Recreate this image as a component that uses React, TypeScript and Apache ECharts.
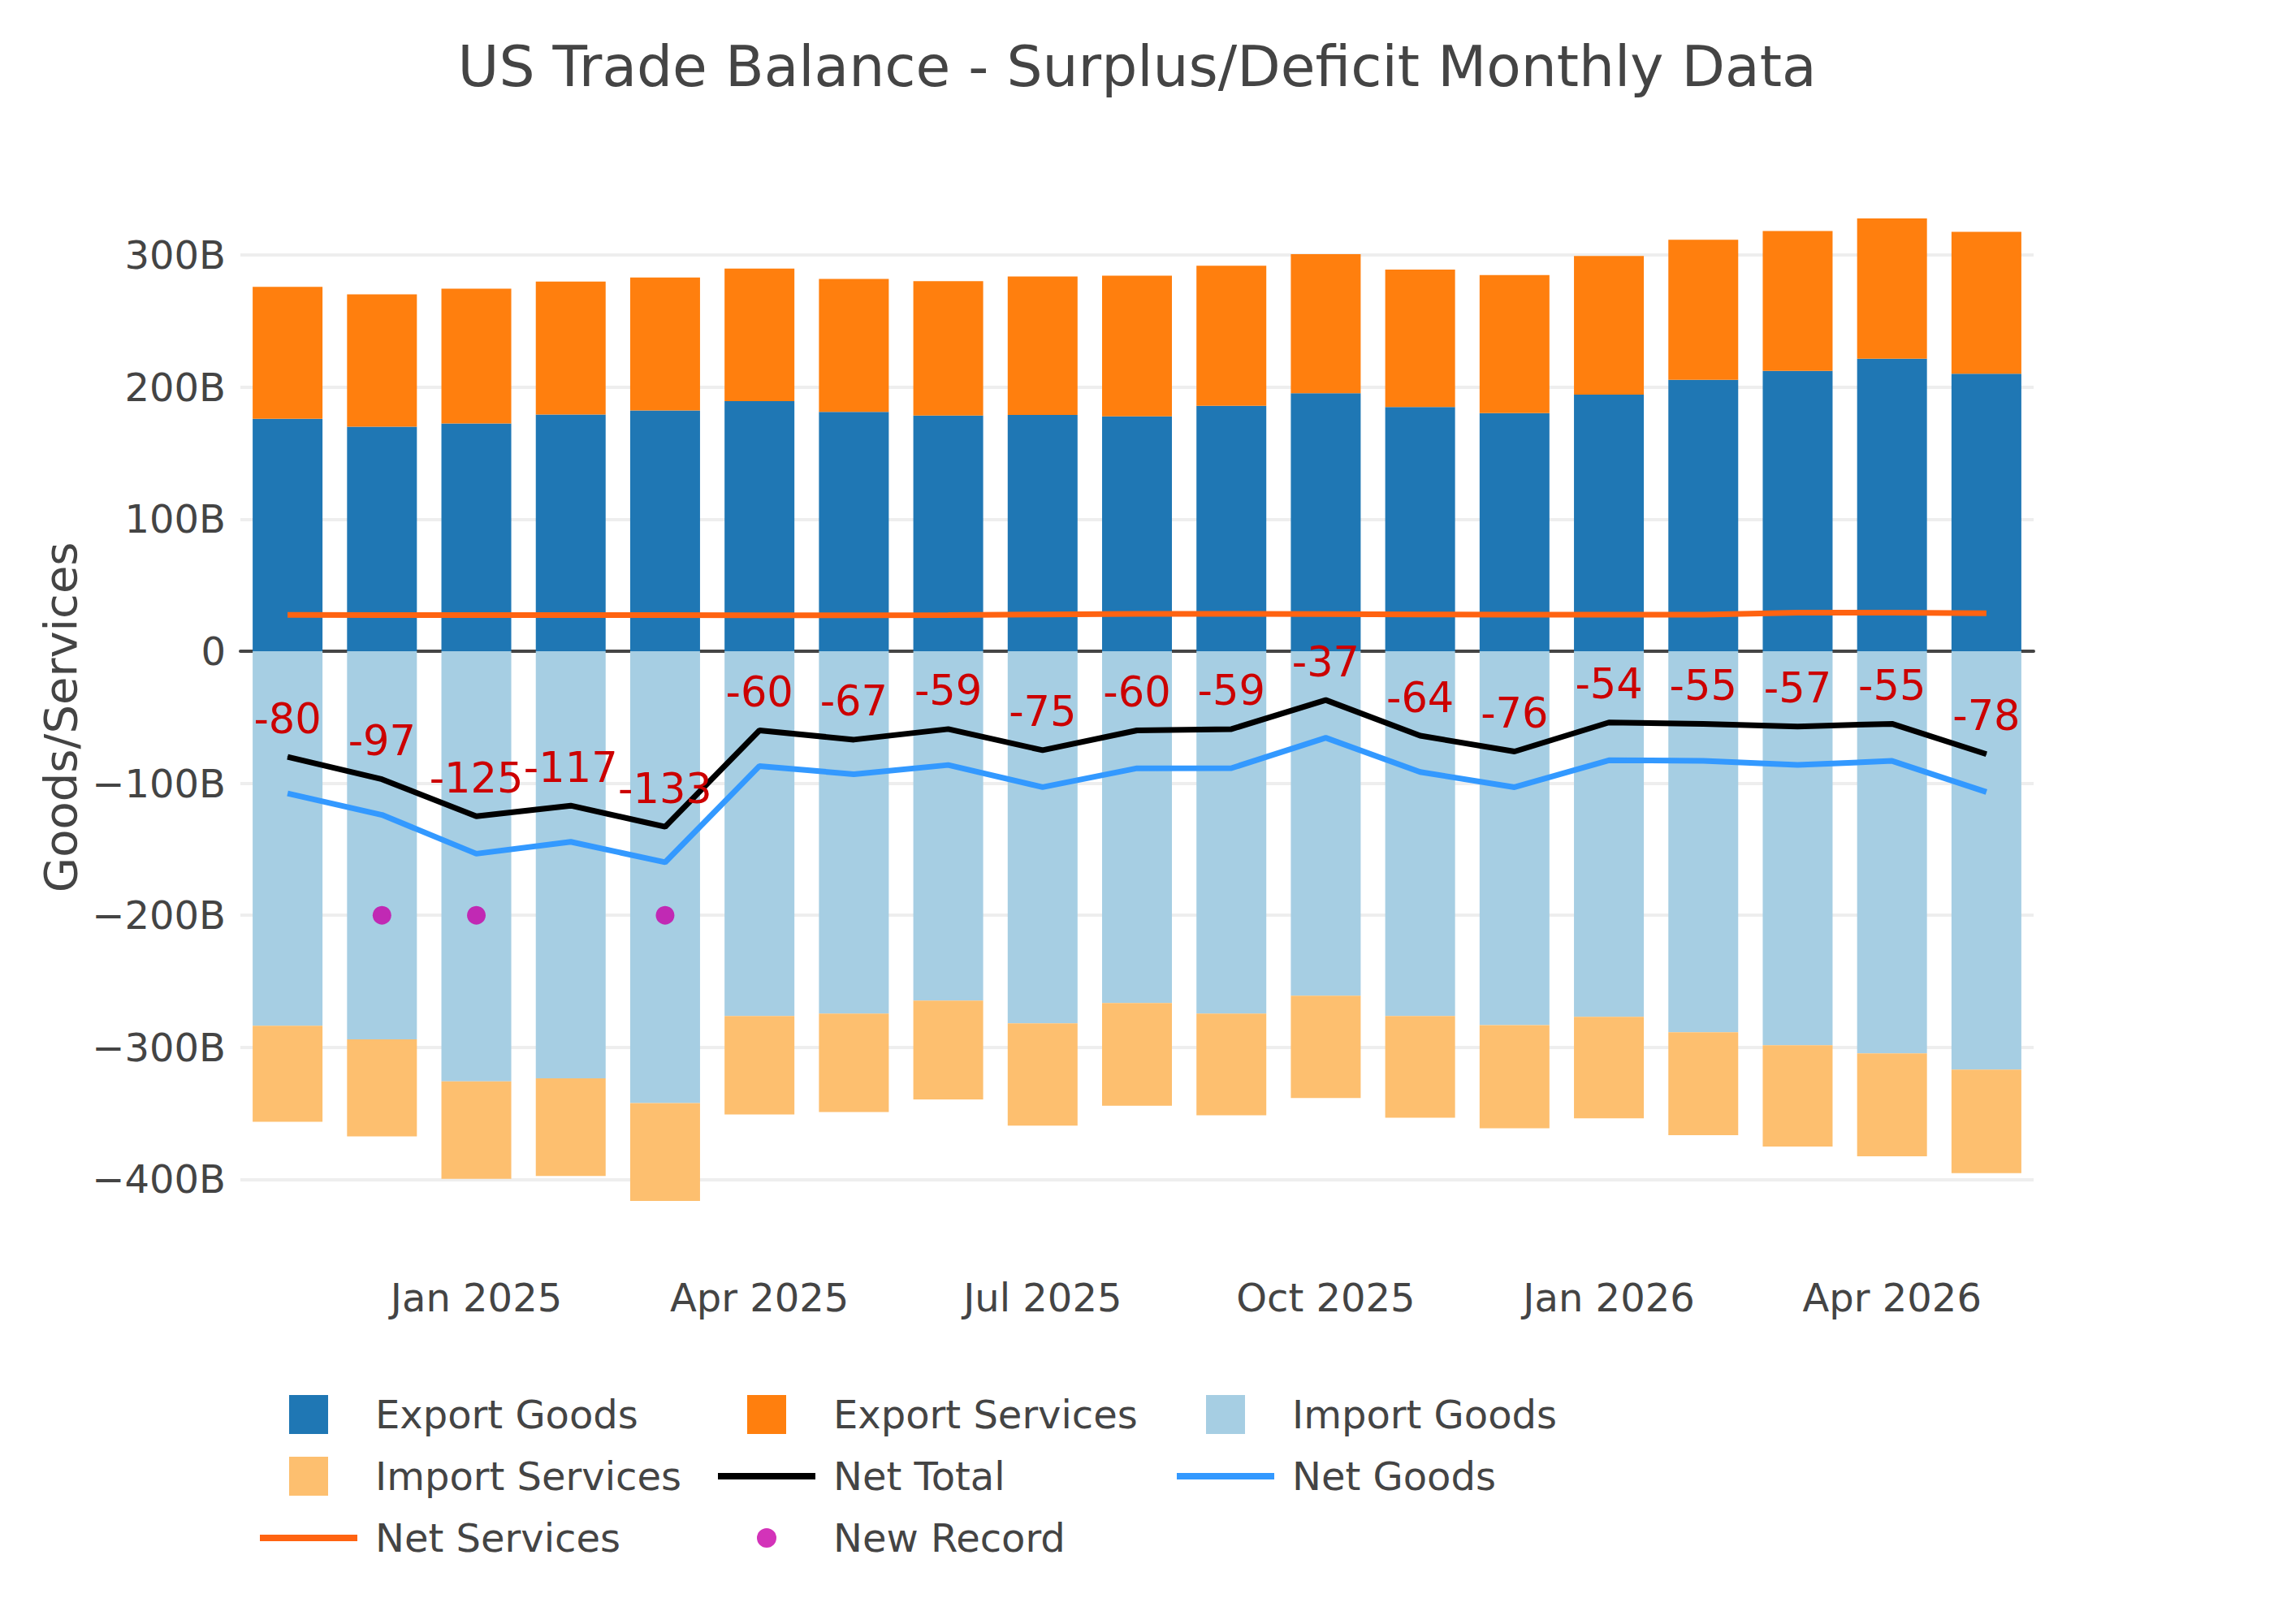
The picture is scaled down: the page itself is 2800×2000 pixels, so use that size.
import React, { useEffect, useRef } from "react";
import * as echarts from "echarts";

const months = [
  "Nov 2024", "Dec 2024", "Jan 2025", "Feb 2025", "Mar 2025", "Apr 2025", "May 2025",
  "Jun 2025", "Jul 2025", "Aug 2025", "Sep 2025", "Oct 2025", "Nov 2025", "Dec 2025",
  "Jan 2026", "Feb 2026", "Mar 2026", "Apr 2026", "May 2026",
];
const xTickMonths = ["Jan 2025", "Apr 2025", "Jul 2025", "Oct 2025", "Jan 2026", "Apr 2026"];

const exportGoods = [176, 170, 172.5, 179.2, 182.4, 189.4, 181.3, 178.5, 178.9, 177.8, 185.9, 195.4, 184.9, 180.3, 194.4, 205.6, 212.3, 221.5, 210.2];
const exportServices = [100, 100.3, 102.1, 100.8, 100.6, 100.4, 100.7, 101.8, 104.9, 106.7, 106, 105.3, 104.2, 104.6, 104.9, 106, 106, 106.3, 107.4];
const importGoods = [-283.7, -294, -325.9, -323.6, -342.3, -276.4, -274.5, -264.7, -281.9, -266.5, -274.5, -261, -276.4, -283.3, -277, -288.6, -298.5, -304.6, -316.9];
const importServices = [-72.7, -73.5, -73.7, -73.9, -74.1, -74.5, -74.5, -74.9, -77.4, -77.8, -77, -77.4, -76.9, -78, -76.9, -78, -76.7, -78, -78.4];
const netTotal = [-80, -97, -125, -117, -133, -60, -67, -59, -75, -60, -59, -37, -64, -76, -54, -55, -57, -55, -78];
const netGoods = [-107.7, -124, -153.4, -144.4, -159.9, -87, -93.2, -86.2, -103, -88.7, -88.6, -65.6, -91.5, -103, -82.6, -83, -86.2, -83.1, -106.7];
const netServices = [27.5, 27.4, 27.4, 27.3, 27.3, 27.2, 27.2, 27.3, 27.8, 28.2, 28.3, 28.1, 27.8, 27.7, 27.6, 27.6, 29.2, 29.2, 28.8];
const newRecord = [null, -200, -200, null, -200, null, null, null, null, null, null, null, null, null, null, null, null, null, null];
const yTickValues = [-400, -300, -200, -100, 0, 100, 200, 300];

const FONT = "DejaVu Sans";
const GREY = "#444";

const ICON_SQ = "path://M0,0M154,48M53,0h48v48h-48z";
const ICON_LN = "path://M0,0M154,48M17,20h120v8h-120z";
const ICON_DOT = "path://M0,0M154,48M65,24a12,12 0 1,0 24,0a12,12 0 1,0 -24,0z";

function fmtY(v: number): string {
  if (!yTickValues.includes(v)) return "";
  if (v === 0) return "0";
  return v < 0 ? "\u2212" + Math.abs(v) + "B" : v + "B";
}

function legendCol(left: number, data: any[]) {
  return {
    orient: "vertical",
    left,
    top: 1718,
    padding: 0,
    itemWidth: 154,
    itemHeight: 48,
    itemGap: 28,
    selectedMode: false,
    itemStyle: { borderWidth: 0 },
    textStyle: { fontSize: 48, color: GREY, fontFamily: FONT, lineHeight: 48 },
    data,
  };
}

export default function App() {
  const ref = useRef<HTMLDivElement>(null);
  useEffect(() => {
    document.body.style.margin = "0";
    if (!ref.current) return;
    const chart = echarts.init(ref.current, null, { renderer: "svg" });
    const option: any = {
      animation: false,
      backgroundColor: "#fff",
      textStyle: { fontFamily: FONT },
      title: {
        text: "US Trade Balance - Surplus/Deficit Monthly Data",
        left: "center",
        top: 42,
        textStyle: { fontSize: 69.5, fontWeight: "normal", color: GREY, fontFamily: FONT, lineHeight: 69 },
      },
      legend: [
        legendCol(303, [
          { name: "Export Goods", icon: ICON_SQ },
          { name: "Import Services", icon: ICON_SQ },
          { name: "Net Services", icon: ICON_LN },
        ]),
        legendCol(867, [
          { name: "Export Services", icon: ICON_SQ },
          { name: "Net Total", icon: ICON_LN },
          { name: "New Record", icon: ICON_DOT },
        ]),
        legendCol(1432, [
          { name: "Import Goods", icon: ICON_SQ },
          { name: "Net Goods", icon: ICON_LN },
        ]),
      ],
      grid: [
        { left: 296, top: 314.2, width: 2208, height: 1138.2 },
        { left: 296, top: 208.5, width: 2208, height: 1330 },
      ],
      xAxis: [
        {
          gridIndex: 0,
          type: "category",
          data: months,
          axisLine: { show: true, onZero: true, lineStyle: { color: GREY, width: 4 } },
          axisTick: { show: false },
          axisLabel: { show: false },
          splitLine: { show: false },
        },
        {
          gridIndex: 1,
          type: "category",
          data: months,
          axisLine: { show: false, onZero: false },
          axisTick: { show: false },
          splitLine: { show: false },
          axisLabel: {
            interval: (_i: number, v: string) => xTickMonths.includes(v),
            fontSize: 48,
            lineHeight: 48,
            color: GREY,
            fontFamily: FONT,
            margin: 35,
          },
        },
      ],
      yAxis: [
        {
          gridIndex: 0,
          type: "value",
          min: -400,
          max: 300,
          interval: 100,
          axisLine: { show: false },
          axisTick: { show: false },
          axisLabel: { formatter: fmtY, fontSize: 48, color: GREY, fontFamily: FONT, margin: 18 },
          splitLine: { show: true, lineStyle: { color: "#eeeeee", width: 4 } },
          name: "Goods/Services",
          nameLocation: "middle",
          nameGap: 189,
          nameTextStyle: { fontSize: 56, color: GREY, fontFamily: FONT, lineHeight: 56 },
        },
        {
          gridIndex: 1,
          type: "value",
          min: -453,
          max: 365,
          show: false,
          splitLine: { show: false },
        },
      ],
      series: [
        {
          name: "Export Goods", type: "bar", stack: "trade", xAxisIndex: 1, yAxisIndex: 1,
          barWidth: 86, data: exportGoods, itemStyle: { color: "#1f77b4" },
        },
        {
          name: "Export Services", type: "bar", stack: "trade", xAxisIndex: 1, yAxisIndex: 1,
          barWidth: 86, data: exportServices, itemStyle: { color: "#ff7f0e" },
        },
        {
          name: "Import Goods", type: "bar", stack: "trade", xAxisIndex: 1, yAxisIndex: 1,
          barWidth: 86, data: importGoods, itemStyle: { color: "#a6cee3" },
        },
        {
          name: "Import Services", type: "bar", stack: "trade", xAxisIndex: 1, yAxisIndex: 1,
          barWidth: 86, data: importServices, itemStyle: { color: "#fdbf6f" },
        },
        {
          name: "Net Total", type: "line", xAxisIndex: 1, yAxisIndex: 1, data: netTotal,
          symbol: "circle", symbolSize: 1, showSymbol: true, z: 4,
          lineStyle: { color: "#000000", width: 7 }, itemStyle: { color: "#000000" },
          label: {
            show: true, position: "top", distance: 21, color: "#cc0000", fontSize: 51,
            fontFamily: FONT, lineHeight: 51, formatter: "{c}",
          },
          labelLayout: { hideOverlap: false },
        },
        {
          name: "Net Goods", type: "line", xAxisIndex: 1, yAxisIndex: 1, data: netGoods,
          symbol: "none", z: 3,
          lineStyle: { color: "#3399ff", width: 7 }, itemStyle: { color: "#3399ff" },
        },
        {
          name: "Net Services", type: "line", xAxisIndex: 1, yAxisIndex: 1, data: netServices,
          symbol: "none", z: 3,
          lineStyle: { color: "#ff6311", width: 7 }, itemStyle: { color: "#ff6311" },
        },
        {
          name: "New Record", type: "scatter", xAxisIndex: 1, yAxisIndex: 1, data: newRecord,
          symbol: "circle", symbolSize: 23, z: 5, itemStyle: { color: "#c800a8" },
        },
      ],
    };
    chart.setOption(option);
    return () => chart.dispose();
  }, []);
  return <div ref={ref} style={{ width: 2800, height: 2000 }} />;
}
